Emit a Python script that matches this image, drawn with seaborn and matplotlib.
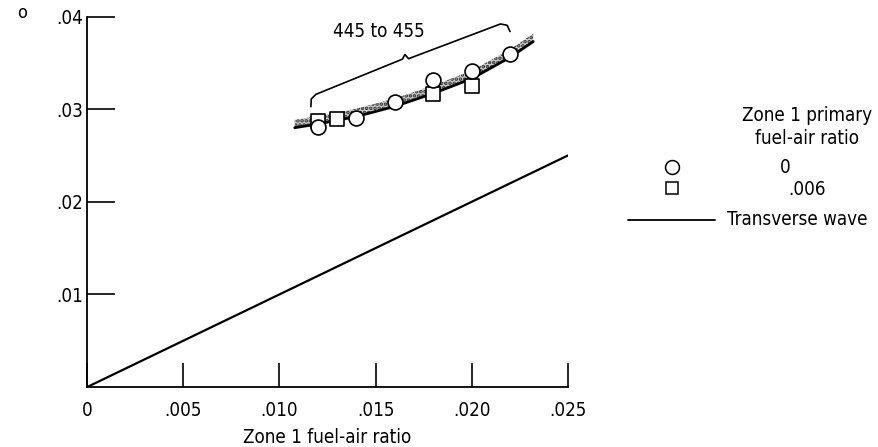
import matplotlib
matplotlib.use("Agg")
import matplotlib.pyplot as plt
import numpy as np
import pandas as pd
import seaborn as sns

# Measured points, zone 1 primary fuel-air ratio = 0
circle_x = [0.012, 0.014, 0.016, 0.018, 0.020, 0.022]
circle_y = [0.0281, 0.0291, 0.0308, 0.0331, 0.0341, 0.0360]

# Measured points, zone 1 primary fuel-air ratio = .006
square_x = [0.012, 0.013, 0.018, 0.020]
square_y = [0.0287, 0.0289, 0.0316, 0.0325]

# Faired curve through the data (445 to 455 range)
fair_x = [0.0108, 0.012, 0.014, 0.016, 0.018, 0.020, 0.022, 0.0232]
fair_y = [0.0280, 0.0284, 0.0292, 0.0303, 0.0317, 0.0333, 0.0356, 0.0373]

# Transverse wave prediction
wave_x = [0.0, 0.025]
wave_y = [0.0, 0.025]

x_ticks = [0.0, 0.005, 0.010, 0.015, 0.020, 0.025]
x_tick_labels = ["0", ".005", ".010", ".015", ".020", ".025"]
y_ticks = [0.01, 0.02, 0.03, 0.04]
y_tick_labels = [".01", ".02", ".03", ".04"]

sns.set_style("white")
plt.rcParams["font.family"] = ["DejaVu Sans"]
plt.rcParams["font.stretch"] = "condensed"
plt.rcParams["text.color"] = "black"
plt.rcParams["axes.labelcolor"] = "black"
plt.rcParams["xtick.color"] = "black"
plt.rcParams["ytick.color"] = "black"
plt.rcParams["hatch.linewidth"] = 1.8

fig = plt.figure(figsize=(8.79, 4.47), dpi=100)
ax = fig.add_axes([0.099, 0.134, 0.547, 0.829])

pts = pd.concat([
    pd.DataFrame({"x": circle_x, "y": circle_y, "primary": "0"}),
    pd.DataFrame({"x": square_x, "y": square_y, "primary": ".006"}),
])
fair = pd.DataFrame({"x": fair_x, "y": fair_y})
wave = pd.DataFrame({"x": wave_x, "y": wave_y})

# Stippled band along the faired curve
fx = np.array(fair_x)
fy = np.array(fair_y)
ax.fill_between(fx, fy, fy + 0.00085, facecolor="#cfcfcf", edgecolor="#2a2a2a",
                hatch="....", linewidth=0, zorder=1)

sns.lineplot(data=fair, x="x", y="y", color="black", linewidth=2.0, ax=ax,
             zorder=2, legend=False)
sns.lineplot(data=wave, x="x", y="y", color="black", linewidth=1.6, ax=ax,
             zorder=2, legend=False)
sns.scatterplot(data=pts[pts.primary == ".006"], x="x", y="y", marker="s",
                s=90, facecolor="white", edgecolor="black", linewidth=1.2,
                ax=ax, legend=False, zorder=3)
sns.scatterplot(data=pts[pts.primary == "0"], x="x", y="y", marker="o",
                s=115, facecolor="white", edgecolor="black", linewidth=1.2,
                ax=ax, legend=False, zorder=4)

# Brace over the data with its range label
bx = [0.01164, 0.01166, 0.01190, 0.01640, 0.01653, 0.01672, 0.02150, 0.02185, 0.02199]
by = [0.03027, 0.03110, 0.03160, 0.03540, 0.03590, 0.03545, 0.03920, 0.03905, 0.03838]
ax.plot(bx, by, color="black", linewidth=1.2, zorder=2)
ax.text(0.0152, 0.0384, "445 to 455", ha="center", va="center", fontsize=13.5)

ax.set_xlim(0, 0.025)
ax.set_ylim(0, 0.04)
ax.set_xticks(x_ticks)
ax.set_xticklabels(x_tick_labels, fontsize=13.5)
ax.set_yticks(y_ticks)
ax.set_yticklabels(y_tick_labels, fontsize=13.5)
ax.tick_params(axis="x", direction="in", length=17, width=1.2, pad=10,
               bottom=True)
ax.tick_params(axis="y", direction="in", length=20, width=1.2, pad=3,
               left=True)
for side in ["top", "right"]:
    ax.spines[side].set_visible(False)
for side in ["left", "bottom"]:
    ax.spines[side].set_linewidth(1.3)
    ax.spines[side].set_color("black")
ax.set_xlabel("Zone 1 fuel-air ratio", fontsize=13.5, labelpad=6)
ax.set_ylabel("")

# Legend block
fig.text(0.918, 0.742, "Zone 1 primary", ha="center", va="center", fontsize=13.5)
fig.text(0.918, 0.691, "fuel-air ratio", ha="center", va="center", fontsize=13.5)
fig.lines.append(plt.Line2D([0.764], [0.626], marker="o", markersize=10,
                            markerfacecolor="white", markeredgecolor="black",
                            markeredgewidth=1.1, transform=fig.transFigure))
fig.lines.append(plt.Line2D([0.764], [0.579], marker="s", markersize=9,
                            markerfacecolor="white", markeredgecolor="black",
                            markeredgewidth=1.1, transform=fig.transFigure))
fig.text(0.893, 0.626, "0", ha="center", va="center", fontsize=13.5)
fig.text(0.918, 0.575, ".006", ha="center", va="center", fontsize=13.5)
fig.lines.append(plt.Line2D([0.714, 0.813], [0.508, 0.508], color="black",
                            linewidth=1.3, transform=fig.transFigure))
fig.text(0.827, 0.508, "Transverse wave", ha="left", va="center", fontsize=13.5)

fig.text(0.025, 0.972, "o", ha="center", va="center", fontsize=13)

fig.savefig("out.png", dpi=100)
